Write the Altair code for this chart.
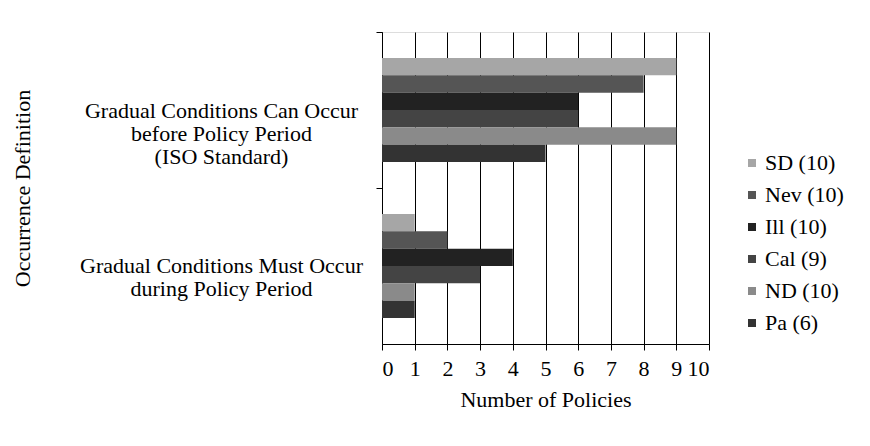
import altair as alt
import pandas as pd

categories = [
    "Gradual Conditions Can Occur|before Policy Period|(ISO Standard)",
    "Gradual Conditions Must Occur|during Policy Period",
]
series = ["SD (10)", "Nev (10)", "Ill (10)", "Cal (9)", "ND (10)", "Pa (6)"]
can_occur_before = [9, 8, 6, 6, 9, 5]
must_occur_during = [1, 2, 4, 3, 1, 1]
colors = ["#a6a6a6", "#555555", "#222222", "#444444", "#8a8a8a", "#333333"]
x_ticks = list(range(0, 11))

rows = []
for s, a, b in zip(series, can_occur_before, must_occur_during):
    rows.append({"cat": categories[0], "series": s, "value": a})
    rows.append({"cat": categories[1], "series": s, "value": b})
df = pd.DataFrame(rows)

FONT = "Liberation Serif"
FS = 22

chart = alt.Chart(df).mark_bar(opacity=1).encode(
    x=alt.X(
        "value:Q",
        scale=alt.Scale(domain=[0, 10], nice=False),
        axis=alt.Axis(
            values=x_ticks,
            title="Number of Policies",
            grid=True,
            gridColor="#000000",
            gridOpacity=1,
            gridWidth=1,
            domainColor="#000000",
            tickColor="#000000",
            tickSize=6,
            labelPadding=8,
            titlePadding=10,
            labelFontSize=FS,
            titleFontSize=FS,
            labelFont=FONT,
            titleFont=FONT,
            titleFontWeight="normal",
            labelColor="#000000",
            titleColor="#000000",
        ),
    ),
    y=alt.Y(
        "cat:N",
        sort=categories,
        scale=alt.Scale(paddingInner=0.3333, paddingOuter=0.16667),
        axis=alt.Axis(
            title="Occurrence Definition",
            labelExpr="split(datum.label, '|')",
            labelAlign="center",
            labelBaseline="middle",
            labelLineHeight=23,
            labelPadding=155,
            labelFontSize=FS,
            labelFont=FONT,
            labelColor="#000000",
            titleFontSize=FS,
            titleFont=FONT,
            titleFontWeight="normal",
            titleColor="#000000",
            titleX=-360,
            titleY=156,
            titleBaseline="middle",
            titleAngle=270,
            tickOffset=-78,
            labelOffset=78,
            tickSize=6,
            tickColor="#000000",
            domainColor="#000000",
            grid=False,
            labelLimit=400,
        ),
    ),
    yOffset=alt.YOffset("series:N", sort=series, scale=alt.Scale(paddingInner=0, paddingOuter=0)),
    color=alt.Color(
        "series:N",
        sort=series,
        scale=alt.Scale(domain=series, range=colors),
        legend=alt.Legend(
            title=None,
            orient="none",
            legendX=359,
            legendY=120,
            symbolType="square",
            symbolSize=64,
            symbolStrokeWidth=0,
            labelFontSize=FS,
            labelFont=FONT,
            labelColor="#000000",
            rowPadding=10,
            labelOffset=2,
        ),
    ),
).properties(
    width=327,
    height=312,
    autosize=alt.AutoSizeParams(type="none"),
    padding={"left": 374, "top": 24, "right": 150, "bottom": 90},
).configure_view(stroke=None).configure(background="#ffffff")

chart.save("out.html", embed_options={"renderer": "svg", "actions": False})
